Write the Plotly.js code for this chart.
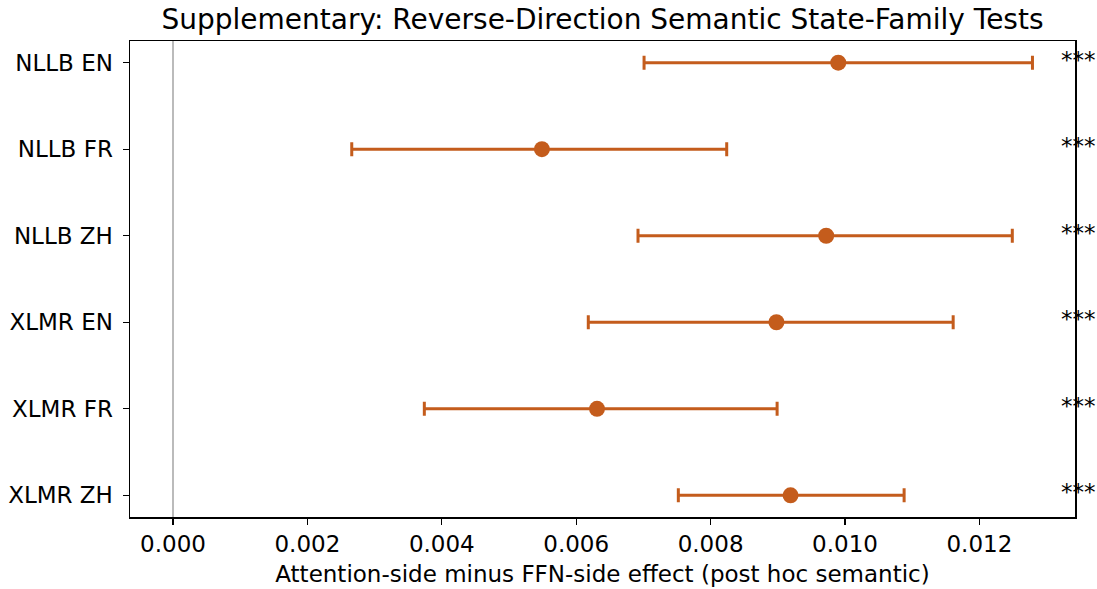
<!DOCTYPE html>
<html>
<head>
<meta charset="utf-8">
<script src="https://cdn.plot.ly/plotly-3.0.1.min.js"></script>
<style>html,body{margin:0;padding:0;background:#fff}#chart{width:1097px;height:589px}</style>
</head>
<body>
<div id="chart"></div>
<script>
const labels = ["NLLB EN", "NLLB FR", "NLLB ZH", "XLMR EN", "XLMR FR", "XLMR ZH"];
const means  = [0.00990, 0.00549, 0.00972, 0.00898, 0.00631, 0.00919];
const ciLow  = [0.00701, 0.00266, 0.00692, 0.00618, 0.00374, 0.00752];
const ciHigh = [0.01279, 0.00824, 0.01249, 0.01161, 0.00899, 0.01088];
const stars  = ["***", "***", "***", "***", "***", "***"];
const xTicks = [0, 0.002, 0.004, 0.006, 0.008, 0.010, 0.012];

const color = "#c45c1c";
const FONT = "DejaVu Sans, sans-serif";

const trace = {
  type: "scatter",
  mode: "markers",
  x: means,
  y: labels,
  marker: {color: color, size: 16},
  error_x: {
    type: "data",
    symmetric: false,
    array: ciHigh.map((h, i) => h - means[i]),
    arrayminus: ciLow.map((l, i) => means[i] - l),
    color: color,
    thickness: 3,
    width: 7
  },
  hoverinfo: "skip",
  showlegend: false
};

const annotations = labels.map((lab, i) => ({
  x: 0.01318, y: lab, xref: "x", yref: "y",
  text: stars[i], showarrow: false, xanchor: "left", yanchor: "middle",
  yshift: 3,
  font: {family: FONT, size: 23, color: "#000000"}
}));

const layout = {
  width: 1097, height: 589,
  margin: {l: 130, r: 22, t: 41, b: 72},
  paper_bgcolor: "#fff", plot_bgcolor: "#fff",
  font: {family: FONT, size: 23, color: "#000"},
  title: {text: "Supplementary: Reverse-Direction Semantic State-Family Tests",
          x: 0.5, xref: "paper", xanchor: "center",
          y: 1, yref: "paper", yanchor: "bottom", pad: {b: 12},
          font: {family: FONT, size: 28, color: "#000"}},
  xaxis: {
    range: [-0.00064, 0.013423],
    tickvals: xTicks,
    ticktext: xTicks.map(v => v.toFixed(3)),
    ticks: "outside", ticklen: 6, tickwidth: 1.3, tickcolor: "#000",
    showgrid: false, zeroline: true, zerolinecolor: "#bbbbbb", zerolinewidth: 2,
    showline: true, linecolor: "#000", linewidth: 1.5, mirror: true,
    tickfont: {family: FONT, size: 23},
    title: {text: "Attention-side minus FFN-side effect (post hoc semantic)", standoff: 10,
            font: {family: FONT, size: 23}}
  },
  yaxis: {
    type: "category",
    categoryorder: "array", categoryarray: labels,
    range: [5.25, -0.25],
    ticks: "outside", ticklen: 6, tickwidth: 1.3, tickcolor: "#000",
    ticklabelstandoff: 5,
    showgrid: false, zeroline: false,
    showline: true, linecolor: "#000", linewidth: 1.5, mirror: true,
    tickfont: {family: FONT, size: 23}
  },
  annotations: annotations
};

Plotly.newPlot("chart", [trace], layout, {displayModeBar: false, staticPlot: true});
</script>
</body>
</html>
